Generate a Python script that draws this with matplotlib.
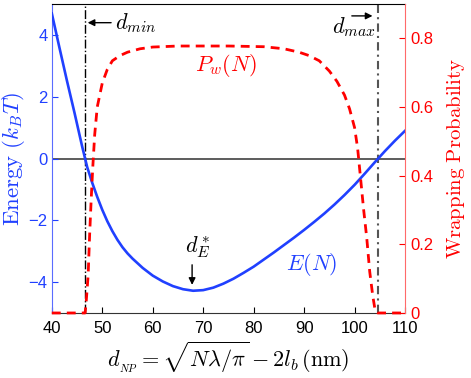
import matplotlib
matplotlib.use("Agg")
import matplotlib.pyplot as plt

plt.rcParams['font.family'] = ['Liberation Sans', 'DejaVu Sans']
plt.rcParams['mathtext.fontset'] = 'cm'

# Energy curve E(N) vs d_NP (nm)
d_E = [40, 41.5, 43, 44.5, 46, 47, 48, 49, 50, 51, 52, 53, 54, 55, 56, 58, 60, 62,
       64, 66, 68, 70, 72, 74, 76, 78, 80, 82, 84, 86, 88, 90, 92, 94, 96, 98,
       100, 102, 104, 106, 108, 110]
E_vals = [4.70, 3.60, 2.52, 1.48, 0.40, -0.27, -0.78, -1.24, -1.66, -2.03, -2.35,
          -2.63, -2.87, -3.07, -3.24, -3.54, -3.79, -3.98, -4.13, -4.23, -4.28,
          -4.26, -4.18, -4.05, -3.89, -3.70, -3.50, -3.27, -3.04, -2.80, -2.56,
          -2.31, -2.05, -1.78, -1.49, -1.18, -0.85, -0.49, -0.12, 0.24, 0.58, 0.90]

# Wrapping probability P_w(N)
d_P = [40, 46.5, 46.6, 46.8, 47.2, 47.5, 47.8, 48.1, 48.5, 49.0, 50, 51, 52, 53.5,
       55, 57.5, 60, 65, 75, 82, 86, 89, 91, 93, 95, 96.5, 98, 99, 100, 100.6,
       101.2, 101.8, 102.4, 103, 103.6, 104.1, 104.6, 110]
P_vals = [0, 0, 0.0, 0.03, 0.11, 0.23, 0.33, 0.42, 0.52, 0.60, 0.67, 0.71, 0.735,
          0.75, 0.76, 0.77, 0.775, 0.778, 0.778, 0.776, 0.77, 0.76, 0.75, 0.735,
          0.705, 0.675, 0.635, 0.595, 0.54, 0.48, 0.39, 0.30, 0.22, 0.12, 0.05,
          0.005, 0, 0]

d_min = 46.55
d_max = 104.6
d_star = 67.8
E_star = -4.28

x_ticks = [40, 50, 60, 70, 80, 90, 100, 110]
E_ticks = [-4, -2, 0, 2, 4]
P_ticks = [0, 0.2, 0.4, 0.6, 0.8]
P_ticklabels = ['0', '0.2', '0.4', '0.6', '0.8']

blue = '#2040ff'
blue_light = '#5a6cff'
red = '#ff0000'
red_light = '#ff6a6a'

fig = plt.figure(figsize=(4.71, 3.78), dpi=100)
ax = fig.add_axes([0.110, 0.172, 0.750, 0.817])
ax2 = ax.twinx()

ax.axhline(0, color='#303030', lw=1.1, zorder=1)
ax.axvline(d_min, color='black', lw=1.0, ls='-.', zorder=2)
ax.axvline(d_max, color='#555555', lw=1.5, ls=(0, (4, 2, 1, 2)), zorder=2)
ax.plot(d_E, E_vals, color=blue, lw=1.9, zorder=3)

ax.set_xlim(40, 110)
ax.set_ylim(-5, 5)
ax.set_xticks(x_ticks)
ax.set_yticks(E_ticks)
ax.tick_params(axis='x', direction='in', length=4, labelsize=12, pad=6, top=False)
ax.tick_params(axis='y', direction='in', length=4, labelsize=12, colors=blue, pad=3)
ax.spines['left'].set_color(blue_light)
ax.spines['right'].set_visible(False)
ax.spines['bottom'].set_color('#333333')

ax.set_xlabel(r'$d_{_{NP}} = \sqrt{N\lambda/\pi} - 2l_b\,(\mathrm{nm})$', fontsize=16, labelpad=2)
ax.set_ylabel(r'$\mathrm{Energy}\ (k_BT)$', fontsize=16.5, color=blue, labelpad=1)

ax2.plot(d_P, P_vals, color=red, lw=2.0, ls=(0, (3.2, 2.2)), clip_on=False, zorder=4)
ax2.set_ylim(0, 0.9)
ax2.set_yticks(P_ticks)
ax2.set_yticklabels(P_ticklabels)
ax2.tick_params(axis='y', direction='in', length=4, labelsize=12, colors=red, pad=4)
ax2.spines['right'].set_color(red_light)
ax2.spines['left'].set_visible(False)
ax2.spines['top'].set_visible(False)
ax2.spines['bottom'].set_visible(False)
ax2.set_ylabel(r'$\mathrm{Wrapping\ Probability}$', fontsize=15, color=red, labelpad=8)

# annotations
ax.annotate('', xy=(d_min, 4.4), xytext=(52.3, 4.4),
            arrowprops=dict(arrowstyle='-|>', color='black', lw=1.0, mutation_scale=10))
ax.text(52.6, 4.4, r'$d_{min}$', fontsize=16, ha='left', va='center')

ax.annotate('', xy=(104.1, 4.62), xytext=(98.9, 4.62),
            arrowprops=dict(arrowstyle='-|>', color='black', lw=1.0, mutation_scale=10))
ax.text(104.2, 4.25, r'$d_{max}$', fontsize=16, ha='right', va='center')

ax.annotate('', xy=(d_star, E_star + 0.1), xytext=(d_star, -3.35),
            arrowprops=dict(arrowstyle='-|>', color='black', lw=1.0, mutation_scale=10))
ax.text(69.0, -2.85, r'$d_E^*$', fontsize=16, ha='center', va='center')

ax.text(91.5, -3.42, r'$E(N)$', fontsize=16, ha='center', va='center', color=blue)
ax.text(74.5, 3.0, r'$P_w(N)$', fontsize=16, ha='center', va='center', color=red)

fig.savefig('out.png', dpi=100)
